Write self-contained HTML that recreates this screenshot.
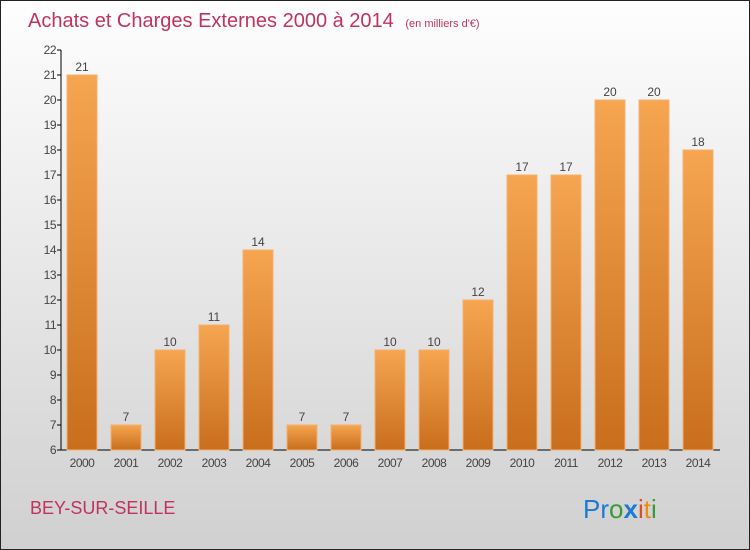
<!DOCTYPE html>
<html><head><meta charset="utf-8"><style>
body{margin:0}
svg{display:block;font-family:"Liberation Sans",sans-serif}
</style></head><body>
<svg width="750" height="550" id="c">
<defs>
<linearGradient id="bg" x1="0" y1="0" x2="0" y2="1"><stop offset="0" stop-color="#fefefe"/><stop offset="1" stop-color="#d0d0d0"/></linearGradient>
<linearGradient id="bar" x1="0" y1="0" x2="0" y2="1"><stop offset="0" stop-color="#f6a550"/><stop offset="1" stop-color="#c86e1c"/></linearGradient>
</defs>
<rect x="0.5" y="0.5" width="749" height="549" fill="url(#bg)" stroke="#222"/>
<text x="28" y="27" font-size="20" fill="#c0335e">Achats et Charges Externes 2000 à 2014 <tspan font-size="11" dx="6">(en milliers d'€)</tspan></text>
<g id="plot"></g>
<text x="30" y="514" font-size="18" fill="#c0335e">BEY-SUR-SEILLE</text>
<text x="583" y="518" font-size="26"><tspan fill="#1a7ad4">Pr</tspan><tspan fill="#3a9a3a">o</tspan><tspan fill="#1a7ad4" font-weight="bold">x</tspan><tspan fill="#e04a20">i</tspan><tspan fill="#f08a10">t</tspan><tspan fill="#3a9a3a">i</tspan></text>
</svg>
<script>
const categories=["2000","2001","2002","2003","2004","2005","2006","2007","2008","2009","2010","2011","2012","2013","2014"];
const values=[21,7,10,11,14,7,7,10,10,12,17,17,20,20,18];
const yTicks=[6,7,8,9,10,11,12,13,14,15,16,17,18,19,20,21,22];
const NS="http://www.w3.org/2000/svg";
const g=document.getElementById('plot');
const y=v=>450-(v-6)*25;
const x=i=>82+i*44;
function mk(t,a,txt){const e=document.createElementNS(NS,t);for(const k in a)e.setAttribute(k,a[k]);if(txt!==undefined)e.textContent=txt;g.appendChild(e);return e;}
let e=mk('line',{x1:61,y1:50,x2:61,y2:450,stroke:'#000'});


e=mk('line',{x1:61,y1:450,x2:720,y2:450,stroke:'#000'});


yTicks.forEach(v=>{
 let t=mk('line',{x1:57,y1:y(v),x2:61,y2:y(v),stroke:'#000'});
 
 
 let l=mk('text',{x:56,y:y(v)+4,'font-size':12,'text-anchor':'end',fill:'#444','letter-spacing':'-0.5'},v);
 
 
});
categories.forEach((c,i)=>{
 let b=mk('rect',{x:x(i)-15,y:y(values[i]),width:30,height:450-y(values[i]),fill:'url(#bar)',stroke:'#f4b070','stroke-width':1});
 
 
 let v=mk('text',{x:x(i),y:y(values[i])-4,'font-size':12,'text-anchor':'middle',fill:'#444'},values[i]);
 
 
 let l=mk('text',{x:x(i),y:467,'font-size':12,'text-anchor':'middle',fill:'#444','letter-spacing':'-0.5'},c);
 
 
});
</script>
</body></html>
